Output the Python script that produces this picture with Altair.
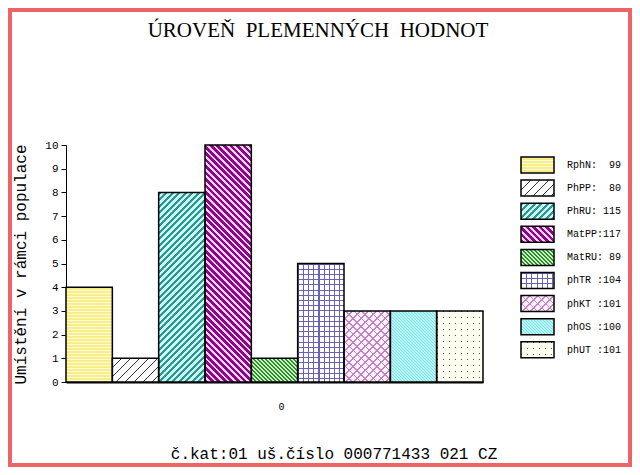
import altair as alt
import pandas as pd

# ---------------- data ----------------
series = ["RphN", "PhPP", "PhRU", "MatPP", "MatRU", "phTR", "phKT", "phOS", "phUT"]
ranks = [4, 1, 8, 10, 1, 5, 3, 3, 3]
breeding_values = [99, 80, 115, 117, 89, 104, 101, 100, 101]
legend_labels = ["RphN:  99", "PhPP:  80", "PhRU: 115", "MatPP:117", "MatRU: 89",
                 "phTR :104", "phKT :101", "phOS :100", "phUT :101"]
group_labels = ["0"] * len(series)
y_ticks = [0, 1, 2, 3, 4, 5, 6, 7, 8, 9, 10]
title_text = "ÚROVEŇ  PLEMENNÝCH  HODNOT"
y_title = "Umístění v rámci populace"
footer_text = "č.kat:01 uš.číslo 000771433 021 CZ"

NB = "\u00a0"
df = pd.DataFrame({
    "grp": group_labels,
    "series": series,
    "rank": ranks,
    "value": breeding_values,
    "label": [s.replace(" ", NB) for s in legend_labels],
})

# ---------------- layout ----------------
PAD_L, PAD_T, W, H = 58, 137, 417, 237
PAD_R = 624 - PAD_L - W
PAD_B = 459 - PAD_T - H
BAR_W = W / len(series)
UNIT = H / 10.0

LEG_X0, LEG_X1, LEG_TX = 455, 488, 501
LEG_R0, LEG_R1, LEG_PI = 12, 212.8, 0.307
LEG_STEP = (LEG_R1 - LEG_R0) / (len(series) - LEG_PI)
LEG_H = LEG_STEP * (1 - LEG_PI)
LEG_W = LEG_X1 - LEG_X0

CLEAR = "rgba(255,255,255,0)"

# hatch patterns: ("solid", colour) or (kind, period, line width, line colour, background)
patterns = {
    "RphN": [("h", 3, 1, "#fdfbdc", "#f7ef86")],
    "PhPP": [("/", 9, 1.1, "#333333", "#ffffff")],
    "PhRU": [("/", 6.5, 3.2, "#2f9690", "#c8fafa")],
    "MatPP": [("\\", 6.5, 3.6, "#8a0a85", "#fdd0fb")],
    "MatRU": [("\\", 4, 2.2, "#2e8b2e", "#c8f5c0")],
    "phTR": [("solid", "#ffffff"), ("v", 5.2, 1.1, "#6a62b8", CLEAR), ("h", 5.2, 1.1, "#6a62b8", CLEAR)],
    "phKT": [("solid", "#fdf3fd"), ("/", 8, 1.5, "#c87dc8", CLEAR), ("\\", 8, 1.5, "#c87dc8", CLEAR)],
    "phOS": [("\\", 3, 1.2, "#86e2e2", "#b4f4f4")],
    "phUT": [("solid", "#fffff2"), ("v", 6, 1, "#555555", CLEAR), ("h", 6, 1, CLEAR, "#fffff2")],
}


def make_fill(spec, w, h):
    if spec[0] == "solid":
        return spec[1]
    kind, period, lw, line_col, bg_col = spec
    if kind == "h":
        p1, p2, span = (0, 0), (0, 1), h
    elif kind == "v":
        p1, p2, span = (0, 0), (1, 0), w
    else:
        c = (1 / h + 1 / w) / (1 / h ** 2 + 1 / w ** 2)
        span = w + h
        if kind == "/":
            p1, p2 = (0, 0), (c / h, c / w)
        else:
            p1, p2 = (0, 1), (c / h, 1 - c / w)
    n = span / period
    stops = []
    k = 0
    while k / n < 1:
        a = k / n
        b = min((k + lw / period) / n, 1)
        e = min((k + 1) / n, 1)
        for off, col in ((a, line_col), (b, line_col), (b, bg_col), (e, bg_col)):
            stops.append({"offset": round(off, 5), "color": col})
        k += 1
    return {"gradient": "linear", "x1": p1[0], "y1": p1[1], "x2": p2[0], "y2": p2[1],
            "stops": stops}


# ---------------- bars ----------------
x_axis = alt.Axis(title=None, ticks=False, domainColor="black", domainWidth=2, labelAngle=0,
                  labelFont="Liberation Mono", labelFontSize=10, labelColor="black",
                  labelPadding=19, labelOffset=7)
y_axis = alt.Axis(values=y_ticks, tickSize=5, tickColor="black", domainColor="black",
                  labelFont="Liberation Mono", labelFontSize=11, labelColor="black",
                  labelPadding=3, grid=False, title=y_title, titleFont="Liberation Mono",
                  titleFontSize=16, titleFontWeight="normal", titleColor="black",
                  titleAngle=270, titleX=-46, titleY=119, titleAlign="center",
                  titleBaseline="middle")

bar_base = alt.Chart().encode(
    x=alt.X("grp:N", axis=x_axis, scale=alt.Scale(paddingInner=0, paddingOuter=0)),
    xOffset=alt.XOffset("series:N", sort=series, scale=alt.Scale(paddingInner=0, paddingOuter=0)),
    y=alt.Y("rank:Q", axis=y_axis, scale=alt.Scale(domain=[0, 10], nice=False)),
)

bar_layers = []
for s, r in zip(series, ranks):
    for spec in patterns[s]:
        bar_layers.append(
            bar_base.transform_filter(alt.datum.series == s).mark_bar(fill=make_fill(spec, BAR_W, r * UNIT))
        )
bar_layers.append(bar_base.mark_bar(fillOpacity=0, stroke="black", strokeWidth=1.5))
bars = alt.layer(*bar_layers, data=df)

# ---------------- legend ----------------
leg_y = alt.Y("series:N", sort=series, axis=None,
              scale=alt.Scale(domain=series, range=[LEG_R0, LEG_R1], paddingInner=LEG_PI, paddingOuter=0))
leg_base = alt.Chart().encode(y=leg_y)
leg_layers = []
for s in series:
    for spec in patterns[s]:
        leg_layers.append(
            leg_base.transform_filter(alt.datum.series == s).mark_rect(fill=make_fill(spec, LEG_W, LEG_H))
            .encode(x=alt.value(LEG_X0), x2=alt.value(LEG_X1))
        )
leg_layers.append(
    leg_base.mark_rect(fillOpacity=0, stroke="black", strokeWidth=1.5)
    .encode(x=alt.value(LEG_X0), x2=alt.value(LEG_X1))
)
leg_layers.append(
    leg_base.mark_text(align="left", baseline="middle", font="Liberation Mono", fontSize=10, color="black")
    .encode(x=alt.value(LEG_TX), text="label:N")
)
legend = alt.layer(*leg_layers, data=df)

# ---------------- decorations: title, footer, frame ----------------
one = pd.DataFrame({"k": [0]})
title = alt.Chart(one).mark_text(font="Liberation Serif", fontSize=21, color="black",
                                 align="center", baseline="alphabetic").encode(
    x=alt.value(252), y=alt.value(-108), text=alt.value(title_text.replace("  ", " " + NB)))
footer = alt.Chart(one).mark_text(font="Liberation Mono", fontSize=16, color="black",
                                  align="center", baseline="alphabetic").encode(
    x=alt.value(268), y=alt.value(314), text=alt.value(footer_text))
frame = alt.Chart(one).mark_rect(fillOpacity=0, stroke="#ec6468", strokeWidth=4).encode(
    x=alt.value(-PAD_L + 2), x2=alt.value(W + PAD_R - 2),
    y=alt.value(-PAD_T + 2), y2=alt.value(H + PAD_B - 2))

chart = alt.layer(bars, legend, title, footer, frame).resolve_scale(y="independent").properties(
    width=W, height=H,
    padding={"left": PAD_L, "top": PAD_T, "right": PAD_R, "bottom": PAD_B},
    autosize=alt.AutoSizeParams(type="none"),
    background="white",
).configure_view(stroke=None)

chart.save("out.html", embed_options={"renderer": "svg", "actions": False})
